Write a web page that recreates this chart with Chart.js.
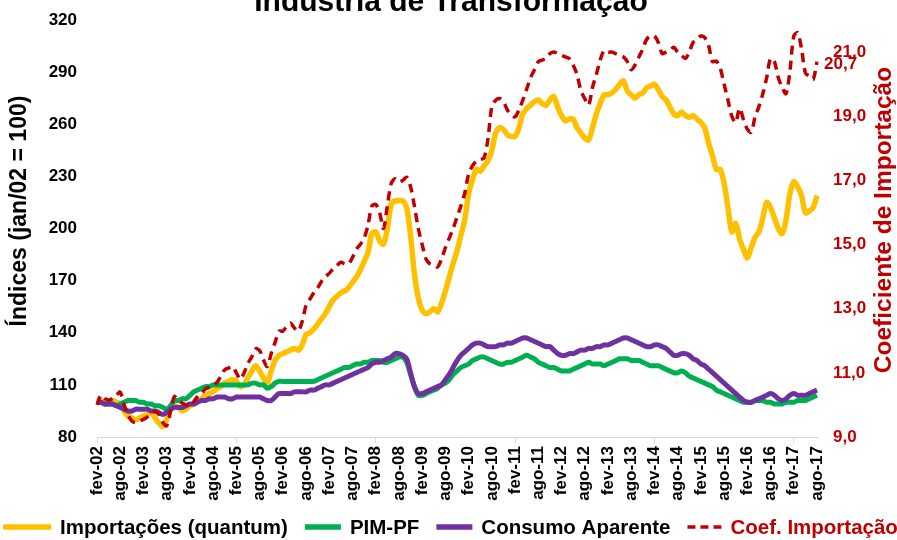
<!DOCTYPE html>
<html>
<head>
<meta charset="utf-8">
<script src="https://cdn.jsdelivr.net/npm/chart.js@4"></script>
<style>
  html, body { margin: 0; padding: 0; background: #fff; }
  #wrap { width: 897px; height: 540px; }
</style>
</head>
<body>
<div id="wrap"><canvas id="c" width="897" height="540"></canvas></div>
<script>
// ---------------- DATA ----------------
const monthNames = ['jan','fev','mar','abr','mai','jun','jul','ago','set','out','nov','dez'];
const startYear = 2002, startMonth = 1;   // fev-02
const monthCount = 187;                   // fev-02 .. ago-17
const labels = [];
for (let i = 0; i < monthCount; i++) {
  const mi = startMonth + i;
  const y = startYear + Math.floor(mi / 12);
  labels.push(monthNames[mi % 12] + '-' + String(y % 100).padStart(2, '0'));
}

const importacoes = [
  100,101, 99,100,101,100, 99, 95, 92, 91, 90, 91,
   92, 93, 94, 91, 88, 86, 90, 96, 98, 97, 95, 96,
   98, 99,101,102,104,105,106,108,109,111,112,113,
  112,109,110,114,118,121,118,114,111,118,124,127,
  128,129,130,131,130,133,139,140,142,145,148,151,
  155,159,161,163,164,166,169,172,176,181,186,197,
  198,193,191,200,214,216,216,216,212,196,174,160,
  153,151,152,154,152,157,164,172,180,187,196,205,
  220,228,234,233,236,239,245,255,258,257,254,253,
  253,258,266,269,271,273,274,272,271,274,276,270,
  265,262,263,263,258,255,252,251,258,266,272,277,
  277,278,280,283,285,279,277,275,277,278,281,282,
  283,280,276,274,270,266,265,267,265,264,265,263,
  261,258,249,242,234,234,226,212,198,203,194,188,
  183,189,195,198,206,215,212,206,200,197,205,220,
  227,224,219,209,210,212,219
];

const pimPf = [
  100,100, 99, 99, 99, 98, 99,100,101,101,101,100,
  100, 99, 99, 98, 98, 97, 96, 98,101,101,102,102,
  104,106,107,108,109,109,110,110,110,110,110,110,
  110,110,110,110,111,111,110,110,108,109,111,112,
  112,112,112,112,112,112,112,112,112,113,114,115,
  116,117,118,119,120,120,121,122,122,123,123,124,
  124,124,123,123,124,125,126,126,123,116,109,104,
  104,105,106,107,108,110,111,113,116,118,120,121,
  122,124,125,126,126,125,124,123,122,122,123,123,
  124,125,126,127,126,125,123,122,121,120,120,119,
  118,118,118,119,120,121,122,123,122,122,122,121,
  122,123,124,125,125,125,124,124,124,123,122,121,
  121,121,120,119,118,117,117,118,117,115,114,113,
  112,111,110,109,107,106,105,104,103,102,101,100,
  100,100,101,101,101,100,100, 99, 99, 99,100,100,
  100,101,101,101,102,103,104
];

const consumoAparente = [
  100,100, 99, 99, 99, 98, 97, 96, 95, 95, 96, 96,
   96, 96, 95, 95, 94, 93, 94, 96, 97, 97, 97, 98,
   99, 99,100,101,101,102,102,103,103,103,102,102,
  103,103,103,103,103,103,103,102,101,101,103,105,
  105,105,105,106,106,106,106,107,107,108,109,110,
  110,111,112,113,114,115,116,117,118,119,120,122,
  123,123,124,125,126,128,128,127,125,117,109,105,
  105,106,107,108,109,110,113,116,120,124,127,129,
  131,133,134,134,133,132,132,132,133,133,134,134,
  135,136,137,137,136,135,134,133,132,132,130,128,
  127,127,128,128,129,130,130,131,131,132,132,133,
  133,134,135,136,137,137,136,135,134,133,132,132,
  133,133,132,131,129,127,127,128,128,127,125,124,
  122,121,119,117,115,113,111,109,107,105,103,101,
  100,100,101,102,103,104,105,104,102,101,102,104,
  105,104,104,104,105,106,107
];

const coefImportacao = [
  10.0,10.3,10.2,10.15,10.2,10.3,10.4,10.0,9.7,9.5,9.45,9.5,
  9.55,9.63,9.75,9.8,9.7,9.45,9.35,9.8,10.26,10.15,10.06,10.0,
  9.95,10.1,10.26,10.35,10.5,10.55,10.6,10.7,10.9,11.1,11.15,11.2,
  11.0,10.8,11.0,11.3,11.5,11.75,11.7,11.4,11.2,11.6,11.95,12.3,
  12.3,12.45,12.55,12.4,12.3,12.6,13.1,13.3,13.5,13.65,13.85,14.0,
  14.1,14.25,14.35,14.45,14.4,14.4,14.6,14.85,15.0,15.2,15.6,16.2,
  16.25,16.0,15.5,16.2,16.9,17.05,16.95,17.0,17.1,16.8,16.2,15.5,
  15.0,14.55,14.4,14.35,14.3,14.55,14.9,15.2,15.5,15.85,16.2,16.6,
  17.2,17.45,17.6,17.65,17.7,18.3,19.3,19.5,19.55,19.45,19.2,19.05,
  18.98,19.2,19.5,19.85,20.2,20.45,20.7,20.75,20.8,20.95,21.0,20.95,
  20.9,20.85,20.8,20.6,20.3,19.8,19.55,19.35,19.9,20.3,20.75,21.05,
  21.0,21.0,20.95,20.9,20.85,20.7,20.45,20.6,20.85,21.1,21.4,21.5,
  21.5,21.3,20.95,21.0,21.05,21.15,21.0,20.9,20.8,21.0,21.3,21.4,
  21.5,21.45,21.2,20.7,20.72,20.5,20.0,19.5,19.0,18.8,19.25,18.9,
  18.6,18.5,18.98,19.3,19.7,20.2,20.8,20.7,20.2,19.9,19.7,20.4,
  21.5,21.6,21.1,20.35,20.25,20.15,20.7
];

const leftTicks = [80, 110, 140, 170, 200, 230, 260, 290, 320];
const rightTicks = [9, 11, 13, 15, 17, 19, 21];

const chartTitle = 'Indústria de Transformação';
const leftAxisTitle = 'Índices (jan/02 = 100)';
const rightAxisTitle = 'Coeficiente de Importação';
const seriesNames = ['Importações (quantum)', 'PIM-PF', 'Consumo Aparente', 'Coef. Importação'];

// ---------------- STYLE ----------------
const FONT = '"Liberation Sans", Arial, sans-serif';
const RED = '#C00000';
const colors = ['#FFC000', '#00B050', '#7030A0', RED];

const fmtComma = v => Number(v).toFixed(1).replace('.', ',');

const decorPlugin = {
  id: 'decor',
  afterDraw(chart) {
    const ctx = chart.ctx;
    ctx.save();
    // Title (partly cut at top like the reference)
    ctx.fillStyle = '#000';
    ctx.font = 'bold 30px ' + FONT;
    ctx.textAlign = 'center';
    ctx.textBaseline = 'alphabetic';
    ctx.fillText(chartTitle, 451, 11);

    // Left axis title
    ctx.save();
    ctx.translate(20, 211);
    ctx.rotate(-Math.PI / 2);
    ctx.font = 'bold 23px ' + FONT;
    ctx.textAlign = 'center';
    ctx.textBaseline = 'middle';
    ctx.fillStyle = '#000';
    ctx.fillText(leftAxisTitle, 0, 0);
    ctx.restore();

    // Right axis title
    ctx.save();
    ctx.translate(884, 220);
    ctx.rotate(-Math.PI / 2);
    ctx.font = 'bold 24.5px ' + FONT;
    ctx.textAlign = 'center';
    ctx.textBaseline = 'middle';
    ctx.fillStyle = RED;
    ctx.fillText(rightAxisTitle, 0, 0);
    ctx.restore();

    // Last value label of the Coef. series
    const meta = chart.getDatasetMeta(3);
    const last = meta.data[meta.data.length - 1];
    ctx.font = 'bold 17px ' + FONT;
    ctx.fillStyle = RED;
    ctx.textAlign = 'left';
    ctx.textBaseline = 'middle';
    ctx.fillText(fmtComma(coefImportacao[coefImportacao.length - 1]), last.x + 7, last.y + 3);

    // Legend
    ctx.font = 'bold 20.5px ' + FONT;
    const lineLens = [48, 36, 36, 34];
    const gapLine = 9, gapItem = 17;
    let total = 0;
    const widths = seriesNames.map(s => ctx.measureText(s).width);
    for (let i = 0; i < 4; i++) total += lineLens[i] + gapLine + widths[i] + (i < 3 ? gapItem : 0);
    let x = (chart.width - total) / 2 + 2;
    const ly = 527;
    for (let i = 0; i < 4; i++) {
      ctx.beginPath();
      ctx.strokeStyle = colors[i];
      ctx.lineWidth = i === 3 ? 3.5 : 5.5;
      ctx.setLineDash(i === 3 ? [8, 5] : []);
      ctx.lineCap = 'butt';
      ctx.moveTo(x, ly);
      ctx.lineTo(x + lineLens[i], ly);
      ctx.stroke();
      ctx.setLineDash([]);
      x += lineLens[i] + gapLine;
      ctx.fillStyle = i === 3 ? RED : '#000';
      ctx.textAlign = 'left';
      ctx.textBaseline = 'middle';
      ctx.fillText(seriesNames[i], x, ly + 1);
      x += widths[i] + gapItem;
    }
    ctx.restore();
  }
};

const fitVertical = w => s => { s.width = w; s.paddingTop = 0; s.paddingBottom = 0; };

new Chart(document.getElementById('c'), {
  type: 'line',
  data: {
    labels: labels,
    datasets: [
      { label: seriesNames[0], data: importacoes, yAxisID: 'y', borderColor: colors[0], borderWidth: 5.5, order: 3 },
      { label: seriesNames[1], data: pimPf, yAxisID: 'y', borderColor: colors[1], borderWidth: 5, order: 2 },
      { label: seriesNames[2], data: consumoAparente, yAxisID: 'y', borderColor: colors[2], borderWidth: 5, order: 1 },
      { label: seriesNames[3], data: coefImportacao, yAxisID: 'y1', borderColor: colors[3], borderWidth: 3.5, borderDash: [9, 6], order: 0 }
    ]
  },
  options: {
    responsive: false,
    animation: false,
    layout: { padding: { top: 20, bottom: 33, left: 0, right: 0 } },
    elements: {
      point: { radius: 0, hoverRadius: 0 },
      line: { tension: 0.3, fill: false, borderJoinStyle: 'round', borderCapStyle: 'butt' }
    },
    plugins: { legend: { display: false }, tooltip: { enabled: false }, title: { display: false } },
    scales: {
      x: {
        type: 'category',
        offset: false,
        ticks: {
          autoSkip: false, maxRotation: 90, minRotation: 90, padding: 3,
          color: '#000', font: { family: FONT, size: 17, weight: 'bold' },
          callback: function (v, i) { return i % 6 === 0 ? labels[i] : null; }
        },
        grid: {
          drawOnChartArea: false, drawTicks: true, tickLength: 6,
          color: c => (c.index % 6 === 0 ? '#d9d9d9' : 'rgba(0,0,0,0)')
        },
        border: { display: true, color: '#d9d9d9', width: 1 },
        afterFit: s => { s.height = 70; }
      },
      y: {
        position: 'left', min: 80, max: 320,
        afterBuildTicks: s => { s.ticks = leftTicks.map(v => ({ value: v })); },
        ticks: { color: '#000', padding: 20, font: { family: FONT, size: 17, weight: 'bold' } },
        grid: { display: false, drawTicks: false },
        border: { display: false },
        afterFit: fitVertical(97)
      },
      y1: {
        position: 'right', min: 9, max: 22,
        afterBuildTicks: s => { s.ticks = rightTicks.map(v => ({ value: v })); },
        ticks: { color: RED, padding: 16, font: { family: FONT, size: 17, weight: 'bold' }, callback: v => fmtComma(v) },
        grid: { display: false, drawTicks: false },
        border: { display: false },
        afterFit: fitVertical(80)
      }
    }
  },
  plugins: [decorPlugin]
});
</script>
</body>
</html>
